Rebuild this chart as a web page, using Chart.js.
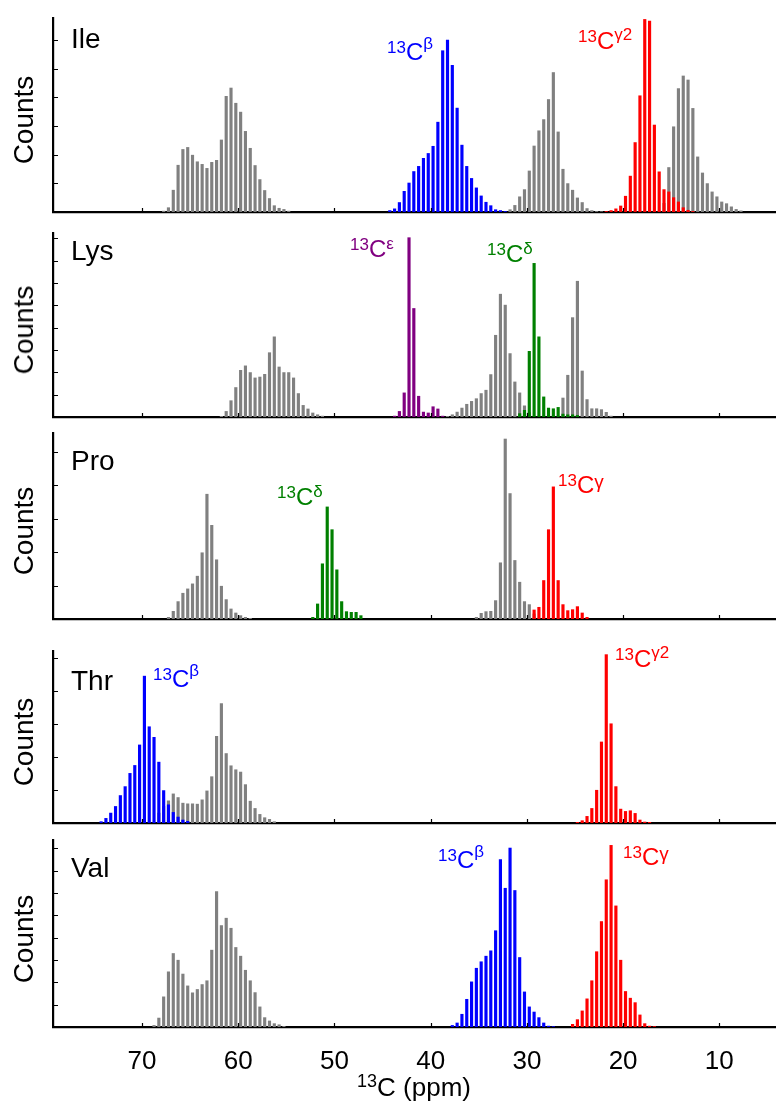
<!DOCTYPE html>
<html><head><meta charset="utf-8">
<script src="https://cdn.jsdelivr.net/npm/chart.js@4.4.0/dist/chart.umd.min.js"></script>
<style>
html,body{margin:0;padding:0;background:#fff;}
#wrap{position:relative;width:776px;height:1106px;overflow:hidden;font-family:'Liberation Sans',Arial,Helvetica,sans-serif;background:#fff;}
canvas{position:absolute;left:0;}
.pl{position:absolute;font-size:28px;line-height:28px;color:#000;white-space:nowrap;}
.cnt{position:absolute;font-size:28px;line-height:28px;color:#000;white-space:nowrap;transform:translate(-50%,-50%) rotate(-90deg);}
.lab{position:absolute;font-size:24px;line-height:24px;white-space:nowrap;}
.lab .s{font-size:17px;position:relative;}
.xt{position:absolute;font-family:'Liberation Sans',sans-serif;font-size:26px;line-height:26px;white-space:nowrap;transform:translateX(-50%);}
.xt .s{font-size:18px;position:relative;top:-9px;}
</style>
</head>
<body>
<div id="wrap"></div>
<script>
// ---------- data (counts, arbitrary units; bins of 0.5 ppm, first bin centre given) ----------
const BIN = 0.5;
const xTickValues = [70, 60, 50, 40, 30, 20, 10];
const panelNames = ['Ile', 'Lys', 'Pro', 'Thr', 'Val'];
const panelYMax = [6.76, 8.24, 5.56, 5.2, 8.37];

// Ile
const ileGrayA_start = 67.75;
const ileGrayA = [0.03,0.15,0.76,1.63,2.18,2.25,1.98,1.75,1.66,1.52,1.73,1.80,2.51,4.03,4.32,3.79,3.48,2.81,2.22,1.62,1.13,0.75,0.47,0.22,0.13,0.09,0.03];
const ileCb_start = 44.25;
const ileCb = [0.05,0.11,0.33,0.72,1.01,1.41,1.59,1.87,2.04,2.29,3.13,5.62,5.99,5.11,3.62,2.33,1.59,1.17,0.84,0.56,0.34,0.22,0.08,0.05,0.02];
const ileGrayB_start = 31.75;
const ileGrayB = [0.08,0.23,0.53,0.78,1.43,2.30,2.83,3.22,3.92,4.86,2.79,1.49,0.99,0.76,0.49,0.33,0.12,0.05,0.02,0.01];
const ileCg2_start = 21.75;
const ileCg2 = [0.02,0.05,0.11,0.21,0.55,1.25,2.42,4.05,6.71,6.65,3.03,1.40,0.78,0.70,0.50,0.35,0.15,0.06,0.02];
const ileGrayC_start = 15.75;
const ileGrayC = [0.30,1.55,2.97,4.30,4.74,4.60,3.61,1.92,1.36,0.99,0.70,0.53,0.35,0.29,0.18,0.09,0.04];

// Lys
const lysGrayA_start = 61.75;
const lysGrayA = [0.03,0.25,0.73,1.32,2.09,2.29,1.99,1.75,1.79,1.91,2.88,3.59,2.24,1.99,1.99,1.75,1.05,0.52,0.36,0.18,0.10,0.04];
const lysCe_start = 43.75;
const lysCe = [0.04,0.25,1.08,8.03,4.86,0.93,0.22,0.18,0.46,0.36,0.04];
const lysGrayB_start = 38.25;
const lysGrayB = [0.03,0.10,0.22,0.40,0.57,0.70,0.82,1.05,1.20,1.90,3.66,5.50,5.01,2.84,1.57,1.08,0.50,0.20];
const lysCd_start = 30.75;
const lysCd = [0.15,0.30,2.94,6.88,3.59,0.90,0.40,0.37,0.43,0.13,0.10,0.10,0.07];
const lysGrayC_start = 26.25;
const lysGrayC = [0.85,1.87,4.45,6.08,2.06,0.78,0.37,0.37,0.33,0.21,0.04];

// Pro
const proGrayA_start = 67.25;
const proGrayA = [0.05,0.23,0.52,0.77,0.90,1.05,1.28,1.98,3.73,2.80,1.77,0.98,0.58,0.30,0.18,0.10,0.05,0.02];
const proCd_start = 52.25;
const proCd = [0.05,0.45,1.65,3.35,2.67,1.47,0.52,0.22,0.20,0.20,0.10];
const proGrayB_start = 35.25;
const proGrayB = [0.05,0.17,0.22,0.23,0.55,1.68,5.38,3.75,1.75,1.10,0.52,0.43,0.15];
const proCg_start = 29.25;
const proCg = [0.27,0.35,1.15,2.67,3.95,1.15,0.43,0.25,0.28,0.37,0.18,0.05];

// Thr
const thrCb_start = 74.25;
const thrCb = [0.04,0.14,0.30,0.50,0.83,1.10,1.50,1.74,2.36,4.44,2.91,2.59,1.84,0.98,0.55,0.32,0.18,0.09,0.05];
const thrGray_start = 68.25;
const thrGray = [0.30,0.50,0.67,0.88,0.77,0.60,0.58,0.58,0.57,0.70,0.97,1.40,2.62,3.61,2.10,1.73,1.61,1.54,1.16,0.66,0.44,0.26,0.16,0.11,0.04];
const thrCg2_start = 24.75;
const thrCg2 = [0.02,0.07,0.20,0.44,0.99,2.45,5.09,3.00,1.10,0.42,0.35,0.37,0.29,0.09,0.03,0.02];

// Val
const valGray_start = 68.75;
const valGray = [0.07,0.40,1.35,2.47,3.29,2.99,2.37,1.84,1.53,1.68,1.90,2.07,3.44,6.06,4.54,4.87,4.42,3.56,3.17,2.54,2.07,1.54,0.90,0.42,0.27,0.15,0.10,0.03];
const valCb_start = 37.75;
const valCb = [0.07,0.18,0.57,1.24,2.02,2.63,2.92,3.17,3.41,4.31,7.49,6.21,8.01,6.11,3.11,1.57,0.90,0.67,0.42,0.18,0.04,0.02];
const valCg_start = 25.25;
const valCg = [0.12,0.33,0.72,1.26,2.07,3.37,4.72,6.59,8.13,5.42,2.99,1.59,1.29,1.09,0.54,0.15,0.04,0.02];

// ---------- styles / layout ----------
const GRAY = '#808080', BLUE = '#0000ff', RED = '#ff0000', GREEN = '#008000', PURPLE = '#800080';
const X_MIN = 4.11, X_MAX = 79.25;
const PLOT_LEFT = 53;
// [axis top, baseline] per panel (pixels)
const panelBox = [[18, 212], [233, 417], [433, 619], [651, 823], [840, 1027]];

const panelSeries = [
  [[ileCb_start, ileCb, BLUE], [ileCg2_start, ileCg2, RED], [ileGrayA_start, ileGrayA, GRAY], [ileGrayB_start, ileGrayB, GRAY], [ileGrayC_start, ileGrayC, GRAY]],
  [[lysCe_start, lysCe, PURPLE], [lysCd_start, lysCd, GREEN], [lysGrayA_start, lysGrayA, GRAY], [lysGrayB_start, lysGrayB, GRAY], [lysGrayC_start, lysGrayC, GRAY]],
  [[proCd_start, proCd, GREEN], [proCg_start, proCg, RED], [proGrayA_start, proGrayA, GRAY], [proGrayB_start, proGrayB, GRAY]],
  [[thrCb_start, thrCb, BLUE], [thrCg2_start, thrCg2, RED], [thrGray_start, thrGray, GRAY]],
  [[valCb_start, valCb, BLUE], [valCg_start, valCg, RED], [valGray_start, valGray, GRAY]]
];

const inwardTicks = {
  id: 'inwardTicks',
  afterDraw(chart) {
    const {ctx, chartArea, scales: {x, y}} = chart;
    ctx.save();
    ctx.strokeStyle = '#000';
    ctx.lineWidth = 1.2;
    ctx.beginPath();
    x.ticks.forEach(t => {
      const px = Math.round(x.getPixelForValue(t.value)) + 0.5;
      ctx.moveTo(px, chartArea.bottom); ctx.lineTo(px, chartArea.bottom - 4);
    });
    y.ticks.forEach(t => {
      if (t.value <= 0) return;
      const py = Math.round(y.getPixelForValue(t.value)) + 0.5;
      ctx.moveTo(chartArea.left, py); ctx.lineTo(chartArea.left + 5, py);
    });
    ctx.stroke();
    ctx.restore();
  }
};

const wrap = document.getElementById('wrap');
const BOTTOM_AXIS_H = 56;

panelSeries.forEach((series, p) => {
  const isBottom = p === panelSeries.length - 1;
  const [top, base] = panelBox[p];
  const padTop = 6, padBot = 6;
  const cv = document.createElement('canvas');
  const h = (base - top) + padTop + (isBottom ? BOTTOM_AXIS_H + 2 : padBot);
  cv.width = 776; cv.height = h;
  cv.style.top = (top - padTop) + 'px';
  cv.style.width = '776px'; cv.style.height = h + 'px';
  wrap.appendChild(cv);

  const datasets = series.map(([start, counts, color]) => ({
    data: counts.map((c, i) => ({x: start - i * BIN, y: c})),
    backgroundColor: color,
    borderWidth: 0,
    barThickness: 2.5,
    grouped: false
  }));
  const yMax = panelYMax[p];
  const yTicks = [];
  for (let v = 1; v < yMax; v++) yTicks.push(v);

  new Chart(cv, {
    type: 'bar',
    data: {datasets},
    options: {
      responsive: false,
      animation: false,
      events: [],
      layout: {padding: {left: PLOT_LEFT, right: 0, top: padTop, bottom: isBottom ? 2 : padBot}},
      plugins: {legend: {display: false}, tooltip: {enabled: false}},
      scales: {
        x: {
          type: 'linear', reverse: true, min: X_MIN, max: X_MAX, offset: false, z: 1,
          grid: {display: false, drawTicks: false, offset: false},
          border: {display: true, color: '#000', width: 2.2},
          afterBuildTicks: s => { s.ticks = xTickValues.map(v => ({value: v})); },
          afterFit: s => { s.height = isBottom ? BOTTOM_AXIS_H : 0; },
          ticks: {
            display: isBottom, autoSkip: false, maxRotation: 0, color: '#000', padding: 19,
            font: {family: "'Liberation Sans',sans-serif", size: 26},
            callback: v => String(v)
          }
        },
        y: {
          type: 'linear', min: 0, max: yMax, z: 1,
          grid: {display: false, drawTicks: false},
          border: {display: true, color: '#000', width: 2.2},
          afterBuildTicks: s => { s.ticks = yTicks.map(v => ({value: v})); },
          afterFit: s => { s.width = 0; },
          ticks: {display: false}
        }
      }
    },
    plugins: [inwardTicks]
  });

  // panel name
  const nm = document.createElement('div');
  nm.className = 'pl';
  nm.textContent = panelNames[p];
  wrap.appendChild(nm);
  const nameBase = [49, 261, 471, 691, 878][p];
  nm.style.left = '71px';
  nm.style.top = (nameBase - 23.7) + 'px';

  // Counts
  const c = document.createElement('div');
  c.className = 'cnt';
  c.textContent = 'Counts';
  c.style.left = '24px';
  c.style.top = ((top + base) / 2 + 5) + 'px';
  wrap.appendChild(c);
});

// peak labels: [left, baseline, colour, greek, greekRaise, greekSize]
const peakLabels = [
  [387, 60, BLUE, 'β', 11, 17],
  [578, 49, RED, 'γ2', 9, 17],
  [350, 257, PURPLE, 'ε', 8, 17],
  [487, 262, GREEN, 'δ', 8, 17],
  [277, 505, GREEN, 'δ', 8, 17],
  [558, 493, RED, 'γ', 5, 19],
  [153, 687, BLUE, 'β', 11, 17],
  [615, 667, RED, 'γ2', 9, 17],
  [438, 868, BLUE, 'β', 11, 17],
  [623, 865, RED, 'γ', 5, 19]
];
peakLabels.forEach(([lx, by, col, g, gr, gs]) => {
  const d = document.createElement('div');
  d.className = 'lab';
  d.style.left = lx + 'px';
  d.style.top = (by - 20.3) + 'px';
  d.style.color = col;
  d.innerHTML = '<span class="s" style="top:-7px">13</span>C<span class="s" style="top:-' + gr + 'px;font-size:' + gs + 'px">' + g + '</span>';
  wrap.appendChild(d);
});

// x-axis title
const xt = document.createElement('div');
xt.className = 'xt';
xt.innerHTML = '<span class="s">13</span>C (ppm)';
xt.style.left = '414px';
xt.style.top = '1074px';
wrap.appendChild(xt);
</script>
</body></html>
